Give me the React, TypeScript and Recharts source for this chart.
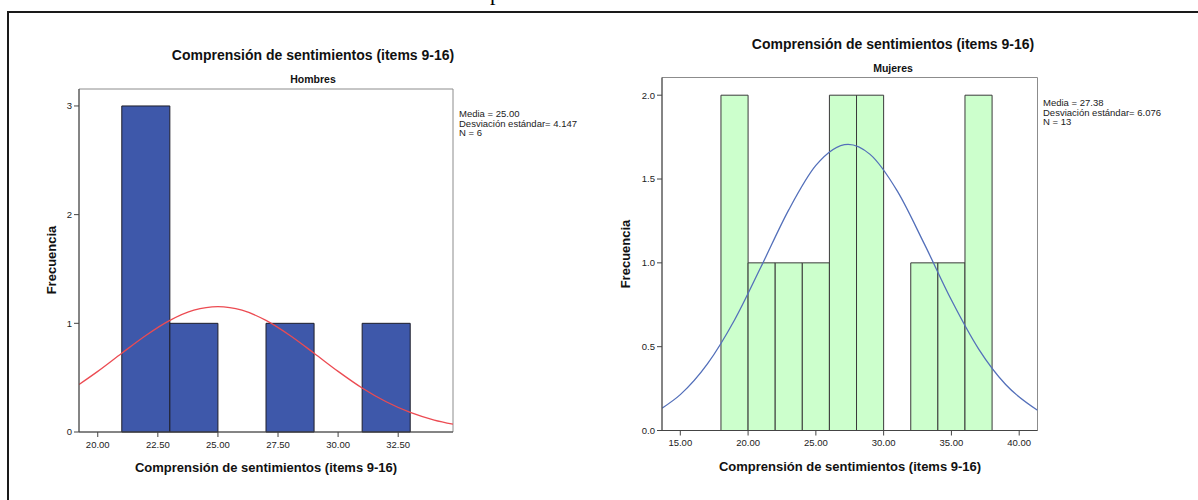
import React from 'react'
import { ComposedChart, Line, XAxis, YAxis, ReferenceArea } from 'recharts'

// Hombres
const menBinStart = [21, 23, 27, 31]
const menCounts = [3, 1, 1, 1]
const menCurveX = [19.22, 20, 21, 22, 23, 24, 25, 26, 27, 28, 29, 30, 31, 32, 33, 34, 34.78]
const menCurveY = [0.437, 0.558, 0.725, 0.888, 1.027, 1.121, 1.154, 1.121, 1.027, 0.888, 0.725, 0.558, 0.405, 0.278, 0.18, 0.11, 0.072]
const menXTicks = [20, 22.5, 25, 27.5, 30, 32.5]
const menYTicks = [0, 1, 2, 3]
const menStats = ['Media = 25.00', 'Desviación estándar= 4.147', 'N = 6']

// Mujeres
const womenBinStart = [18, 20, 22, 24, 26, 28, 32, 34, 36]
const womenCounts = [2, 1, 1, 1, 2, 2, 1, 1, 2]
const womenCurveX = [13.65, 15, 17, 19, 21, 23, 25, 27.38, 29, 31, 33, 35, 37, 39, 41.35]
const womenCurveY = [0.133, 0.214, 0.397, 0.659, 0.984, 1.316, 1.581, 1.707, 1.647, 1.429, 1.113, 0.778, 0.487, 0.274, 0.121]
const womenXTicks = [15, 20, 25, 30, 35, 40]
const womenYTicks = [0, 0.5, 1, 1.5, 2]
const womenStats = ['Media = 27.38', 'Desviación estándar= 6.076', 'N = 13']

const BIN_WIDTH = 2
const TITLE = 'Comprensión de sentimientos (items 9-16)'
const FONT = '"Liberation Sans", Arial, sans-serif'

const tickStyle = { fontSize: 9.5, fill: '#222', fontFamily: FONT }

function centered(x: number, y: number): React.CSSProperties {
  return { position: 'absolute', left: x, top: y, transform: 'translate(-50%, -50%)', whiteSpace: 'nowrap' }
}

type HistProps = {
  left: number
  width: number
  margin: { top: number; right: number; bottom: number; left: number }
  xDomain: [number, number]
  yDomain: [number, number]
  xTicks: number[]
  yTicks: number[]
  yFmt: (v: number) => string
  bins: number[]
  counts: number[]
  curveX: number[]
  curveY: number[]
  barFill: string
  barStroke: string
  curveColor: string
}

function Histogram(p: HistProps) {
  const data = p.curveX.map((x, i) => ({ x, y: p.curveY[i] }))
  return (
    <div style={{ position: 'absolute', left: p.left, top: 0 }}>
      <ComposedChart width={p.width} height={500} data={data} margin={p.margin}>
        <XAxis
          dataKey="x"
          type="number"
          domain={p.xDomain}
          allowDataOverflow
          ticks={p.xTicks}
          interval={0}
          tickFormatter={(v: number) => v.toFixed(2)}
          tick={tickStyle}
          tickSize={5}
          tickMargin={4}
          height={30}
          stroke="#444"
        />
        <YAxis
          type="number"
          domain={p.yDomain}
          allowDataOverflow
          ticks={p.yTicks}
          interval={0}
          tickFormatter={p.yFmt}
          tick={tickStyle}
          tickSize={5}
          tickMargin={2}
          width={30}
          stroke="#444"
        />
        {/* plot frame */}
        <ReferenceArea
          x1={p.xDomain[0]}
          x2={p.xDomain[1]}
          y1={p.yDomain[0]}
          y2={p.yDomain[1]}
          fill="none"
          fillOpacity={0}
          stroke="#8c8c8c"
          strokeWidth={1}
        />
        {p.bins.map((b, i) => (
          <ReferenceArea
            key={b}
            x1={b}
            x2={b + BIN_WIDTH}
            y1={0}
            y2={p.counts[i]}
            fill={p.barFill}
            fillOpacity={1}
            stroke={p.barStroke}
            strokeWidth={1}
          />
        ))}
        <Line
          dataKey="y"
          type="monotone"
          dot={false}
          stroke={p.curveColor}
          strokeWidth={1.3}
          isAnimationActive={false}
        />
      </ComposedChart>
    </div>
  )
}

export default function App() {
  const titleStyle: React.CSSProperties = { fontFamily: FONT, fontWeight: 'bold', fontSize: 14, color: '#111' }
  const subStyle: React.CSSProperties = { fontFamily: FONT, fontWeight: 'bold', fontSize: 10.5, color: '#111' }
  const axisTitle: React.CSSProperties = { fontFamily: FONT, fontWeight: 'bold', fontSize: 13, color: '#111' }
  const statStyle: React.CSSProperties = { position: 'absolute', fontFamily: FONT, fontSize: 9.5, lineHeight: '9.5px', color: '#222', whiteSpace: 'nowrap' }

  return (
    <div style={{ position: 'absolute', left: 0, top: 0, width: 1198, height: 500, background: '#fff', overflow: 'hidden' }}>
      <div style={{ position: 'absolute', left: 490, top: -18, fontFamily: '"Liberation Serif", serif', fontSize: 22, lineHeight: '22px' }}>p</div>
      <div style={{ position: 'absolute', left: 7, top: 11, width: 1220, height: 520, borderTop: '2px solid #1a1a1a', borderLeft: '2px solid #1a1a1a' }} />

      <Histogram
        left={0}
        width={600}
        margin={{ top: 89, right: 147, bottom: 38, left: 49 }}
        xDomain={[19.22, 34.78]}
        yDomain={[0, 3.156]}
        xTicks={menXTicks}
        yTicks={menYTicks}
        yFmt={(v) => String(v)}
        bins={menBinStart}
        counts={menCounts}
        curveX={menCurveX}
        curveY={menCurveY}
        barFill="#3e58aa"
        barStroke="#1e1e2a"
        curveColor="#ec4b52"
      />
      <Histogram
        left={600}
        width={598}
        margin={{ top: 77.5, right: 160.5, bottom: 39.5, left: 32 }}
        xDomain={[13.65, 41.35]}
        yDomain={[0, 2.1055]}
        xTicks={womenXTicks}
        yTicks={womenYTicks}
        yFmt={(v) => v.toFixed(1)}
        bins={womenBinStart}
        counts={womenCounts}
        curveX={womenCurveX}
        curveY={womenCurveY}
        barFill="#ccffcc"
        barStroke="#3a3a3a"
        curveColor="#5470ba"
      />

      <div style={{ ...centered(313, 55), ...titleStyle }}>{TITLE}</div>
      <div style={{ ...centered(313, 79), ...subStyle }}>Hombres</div>
      <div style={{ ...statStyle, left: 459, top: 109 }}>
        {menStats.map((s) => <div key={s}>{s}</div>)}
      </div>
      <div style={{ ...centered(51, 260), ...axisTitle, transform: 'translate(-50%, -50%) rotate(-90deg)' }}>Frecuencia</div>
      <div style={{ ...centered(266, 467), ...axisTitle }}>{TITLE}</div>

      <div style={{ ...centered(893, 44), ...titleStyle }}>{TITLE}</div>
      <div style={{ ...centered(893, 68), ...subStyle }}>Mujeres</div>
      <div style={{ ...statStyle, left: 1043, top: 98 }}>
        {womenStats.map((s) => <div key={s}>{s}</div>)}
      </div>
      <div style={{ ...centered(625, 254), ...axisTitle, transform: 'translate(-50%, -50%) rotate(-90deg)' }}>Frecuencia</div>
      <div style={{ ...centered(850, 466), ...axisTitle }}>{TITLE}</div>
    </div>
  )
}
